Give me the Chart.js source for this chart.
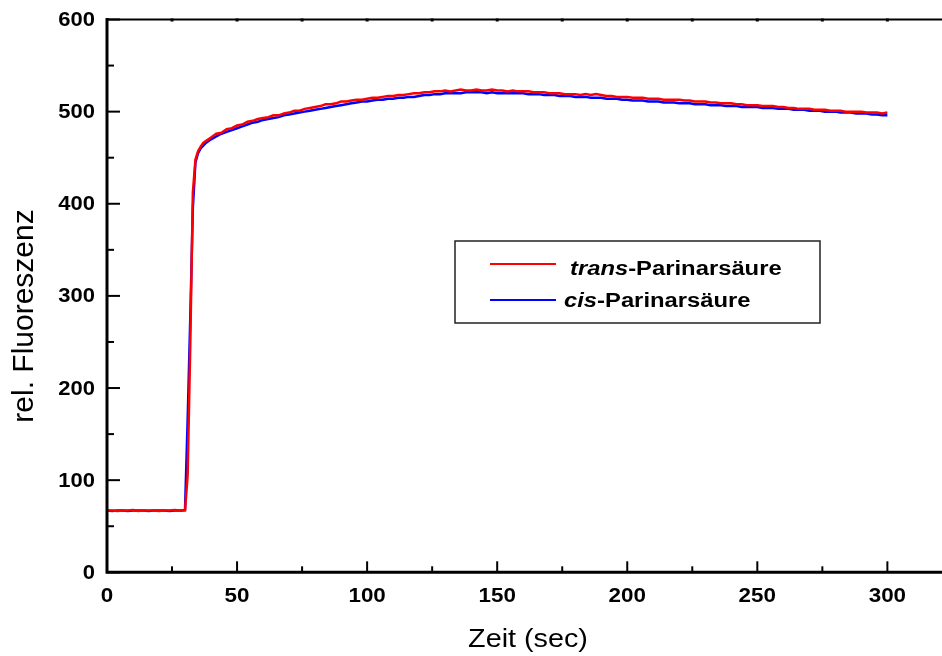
<!DOCTYPE html>
<html>
<head>
<meta charset="utf-8">
<script src="https://cdn.jsdelivr.net/npm/chart.js@4/dist/chart.umd.min.js"></script>
<style>
  html, body { margin: 0; padding: 0; background: #fff; }
  #wrap { width: 942px; height: 656px; }
</style>
</head>
<body>
<div id="wrap"><canvas id="c" width="942" height="656"></canvas></div>
<script>
// Measurement time points (seconds)
const timeSec = [
  0, 2, 4, 6, 8, 10, 12, 14, 16, 18, 20, 22, 24, 26, 28,
  29, 30, 31, 32, 33, 34, 35, 36, 37, 38,
  40, 42, 44, 46, 48, 50, 52, 54, 56, 58,
  60, 62, 64, 66, 68, 70, 72, 74, 76, 78,
  80, 82, 84, 86, 88, 90, 92, 94, 96, 98,
  100, 102, 104, 106, 108, 110, 112, 114, 116, 118,
  120, 122, 124, 126, 128, 130, 132, 134, 136, 138,
  140, 142, 144, 146, 148, 150, 152, 154, 156, 158,
  160, 162, 164, 166, 168, 170, 172, 174, 176, 178,
  180, 182, 184, 186, 188, 190, 192, 194, 196, 198,
  200, 202, 204, 206, 208, 210, 212, 214, 216, 218,
  220, 222, 224, 226, 228, 230, 232, 234, 236, 238,
  240, 242, 244, 246, 248, 250, 252, 254, 256, 258,
  260, 262, 264, 266, 268, 270, 272, 274, 276, 278,
  280, 282, 284, 286, 288, 290, 292, 294, 296, 298,
  300
];

// Relative fluorescence, trans-parinaric acid
const transValues = [
  67, 67, 66.5, 67, 67, 67.5, 66.5, 67, 67, 67, 66.5, 67, 67, 67.5, 67,
  67, 67, 105, 245, 412, 448, 457, 462, 466, 468,
  472, 476, 477, 481, 482, 485, 486, 489, 490, 492,
  493, 494, 496, 496, 498, 499, 501, 501, 503, 504,
  505, 506, 508, 508, 509, 511, 511, 512, 513, 513,
  514, 515, 515, 516, 517, 517, 518, 518, 519, 520,
  520, 521, 521, 522, 522, 523, 522, 523, 524, 523,
  523, 524, 523, 523, 524, 523, 523, 522, 523, 522,
  522, 522, 521, 521, 521, 520, 520, 520, 519, 519,
  519, 518, 519, 518, 519, 518, 517, 517, 516, 516,
  516, 515, 515, 515, 514, 514, 514, 513, 513, 513,
  513, 512, 512, 511, 511, 511, 510, 510, 509, 509,
  509, 508, 508, 507, 507, 507, 506, 506, 506, 505,
  505, 504, 504, 503, 503, 503, 502, 502, 502, 501,
  501, 501, 500, 500, 500, 500, 499, 499, 499, 498,
  499
];

// Relative fluorescence, cis-parinaric acid
const cisValues = [
  67, 66.5, 67, 67, 66.5, 67, 67, 67, 66.5, 67, 67, 67, 66.5, 67, 67,
  67, 68, 165, 275, 395, 445, 455, 460, 463, 466,
  470, 473, 476, 478, 480, 482, 484, 486, 488, 489,
  491, 492, 493, 494, 496, 497, 498, 499, 500, 501,
  502, 503, 504, 505, 506, 507, 508, 509, 510, 511,
  511, 512, 513, 513, 514, 514, 515, 515, 516, 516,
  517, 518, 518, 519, 519, 520, 520, 520, 520, 521,
  521, 521, 521, 520, 521, 520, 520, 520, 520, 520,
  520, 519, 519, 519, 518, 518, 518, 517, 517, 517,
  516, 516, 516, 515, 515, 515, 514, 514, 514, 513,
  513, 512, 512, 512, 511, 511, 511, 510, 510, 510,
  509, 509, 509, 508, 508, 508, 507, 507, 507, 506,
  506, 506, 505, 505, 505, 505, 504, 504, 504, 503,
  503, 503, 502, 502, 502, 501, 501, 501, 500, 500,
  500, 499, 499, 499, 498, 498, 498, 497, 497, 496,
  496
];

const seriesLabels = ['trans-Parinarsäure', 'cis-Parinarsäure'];
const seriesColors = ['#ff0000', '#0000ff'];

const xTickValues = [0, 50, 100, 150, 200, 250, 300];
const yTickValues = [0, 100, 200, 300, 400, 500, 600];

const xTitle = 'Zeit (sec)';
const yTitle = 'rel. Fluoreszenz';

const FONT = '"Liberation Sans", Arial, Helvetica, sans-serif';

function toPoints(values) {
  return timeSec.map((t, i) => ({ x: t, y: values[i] }));
}

// Text drawn with a horizontal stretch factor
function stretchedText(ctx, text, x, y, sx, align, baseline) {
  ctx.save();
  ctx.translate(x, y);
  ctx.scale(sx, 1);
  ctx.textAlign = align;
  ctx.textBaseline = baseline;
  ctx.fillText(text, 0, 0);
  ctx.restore();
}

const framePlugin = {
  id: 'frame',
  afterDraw(chart) {
    const { ctx, chartArea: a, scales } = chart;
    const xs = scales.x, ys = scales.y;
    ctx.save();
    ctx.strokeStyle = '#000';
    ctx.fillStyle = '#000';
    ctx.lineCap = 'butt';

    // top frame line with small ticks
    ctx.lineWidth = 2;
    ctx.beginPath();
    ctx.moveTo(a.left, a.top);
    ctx.lineTo(a.right, a.top);
    ctx.stroke();
    ctx.lineWidth = 3;
    for (let v = 25; v <= xs.max; v += 25) {
      const px = xs.getPixelForValue(v);
      ctx.beginPath();
      ctx.moveTo(px, a.top - 1);
      ctx.lineTo(px, a.top + 2);
      ctx.stroke();
    }

    // left and bottom axes
    ctx.lineWidth = 3;
    ctx.beginPath();
    ctx.moveTo(a.left, a.top - 1.5);
    ctx.lineTo(a.left, a.bottom);
    ctx.lineTo(a.right, a.bottom);
    ctx.stroke();

    // y ticks (inward)
    ctx.lineWidth = 2;
    yTickValues.forEach((v, i) => {
      const py = ys.getPixelForValue(v);
      ctx.beginPath();
      ctx.moveTo(a.left, py);
      ctx.lineTo(a.left + 13, py);
      ctx.stroke();
      if (i < yTickValues.length - 1) {
        const pm = ys.getPixelForValue((v + yTickValues[i + 1]) / 2);
        ctx.beginPath();
        ctx.moveTo(a.left, pm);
        ctx.lineTo(a.left + 7, pm);
        ctx.stroke();
      }
    });

    // x ticks (inward)
    xTickValues.forEach((v, i) => {
      const px = xs.getPixelForValue(v);
      ctx.beginPath();
      ctx.moveTo(px, a.bottom);
      ctx.lineTo(px, a.bottom - 11);
      ctx.stroke();
      if (i < xTickValues.length - 1) {
        const pm = xs.getPixelForValue((v + xTickValues[i + 1]) / 2);
        ctx.beginPath();
        ctx.moveTo(pm, a.bottom);
        ctx.lineTo(pm, a.bottom - 6);
        ctx.stroke();
      }
    });

    // tick labels
    ctx.font = 'bold 20px ' + FONT;
    yTickValues.forEach(v => {
      stretchedText(ctx, String(v), 95, ys.getPixelForValue(v) + 1, 1.1, 'right', 'middle');
    });
    xTickValues.forEach(v => {
      stretchedText(ctx, String(v), xs.getPixelForValue(v), 602, 1.12, 'center', 'alphabetic');
    });

    // axis titles
    ctx.font = '25px ' + FONT;
    stretchedText(ctx, xTitle, 528, 647, 1.15, 'center', 'alphabetic');
    ctx.save();
    ctx.translate(33, 316);
    ctx.rotate(-Math.PI / 2);
    ctx.font = '30px ' + FONT;
    ctx.textAlign = 'center';
    ctx.textBaseline = 'alphabetic';
    ctx.fillText(yTitle, 0, 0);
    ctx.restore();

    // legend box
    ctx.lineWidth = 1.5;
    ctx.strokeStyle = '#222';
    ctx.strokeRect(455, 241, 365, 82);

    const rows = [
      { lineY: 264, textX: 570, baseY: 275 },
      { lineY: 300, textX: 564, baseY: 307 }
    ];
    chart.data.datasets.forEach((ds, i) => {
      const r = rows[i];
      ctx.strokeStyle = ds.borderColor;
      ctx.lineWidth = 2;
      ctx.beginPath();
      ctx.moveTo(490, r.lineY);
      ctx.lineTo(556, r.lineY);
      ctx.stroke();

      const cut = ds.label.indexOf('-');
      const italicPart = ds.label.slice(0, cut);
      const rest = ds.label.slice(cut);
      const sx = 1.19;
      ctx.save();
      ctx.translate(r.textX, r.baseY);
      ctx.scale(sx, 1);
      ctx.fillStyle = '#000';
      ctx.textAlign = 'left';
      ctx.textBaseline = 'alphabetic';
      ctx.font = 'italic bold 20px ' + FONT;
      ctx.fillText(italicPart, 0, 0);
      const w = ctx.measureText(italicPart).width;
      ctx.font = 'bold 20px ' + FONT;
      ctx.fillText(rest, w, 0);
      ctx.restore();
    });

    ctx.restore();
  }
};

new Chart(document.getElementById('c'), {
  type: 'line',
  data: {
    datasets: [
      {
        label: seriesLabels[0],
        data: toPoints(transValues),
        borderColor: seriesColors[0],
        borderWidth: 2.5,
        pointRadius: 0,
        tension: 0,
        fill: false
      },
      {
        label: seriesLabels[1],
        data: toPoints(cisValues),
        borderColor: seriesColors[1],
        borderWidth: 2.5,
        pointRadius: 0,
        tension: 0,
        fill: false
      }
    ]
  },
  options: {
    responsive: false,
    animation: false,
    devicePixelRatio: 1,
    layout: { padding: { top: 19.5, right: 0, left: 0, bottom: 0 } },
    plugins: {
      legend: { display: false },
      tooltip: { enabled: false }
    },
    scales: {
      x: {
        type: 'linear',
        min: 0,
        max: 321,
        grid: { display: false },
        border: { display: false },
        ticks: { display: false },
        afterFit(scale) { scale.height = 83.7; }
      },
      y: {
        type: 'linear',
        min: 0,
        max: 600,
        grid: { display: false },
        border: { display: false },
        ticks: { display: false },
        afterFit(scale) { scale.width = 107; }
      }
    }
  },
  plugins: [framePlugin]
});
</script>
</body>
</html>
